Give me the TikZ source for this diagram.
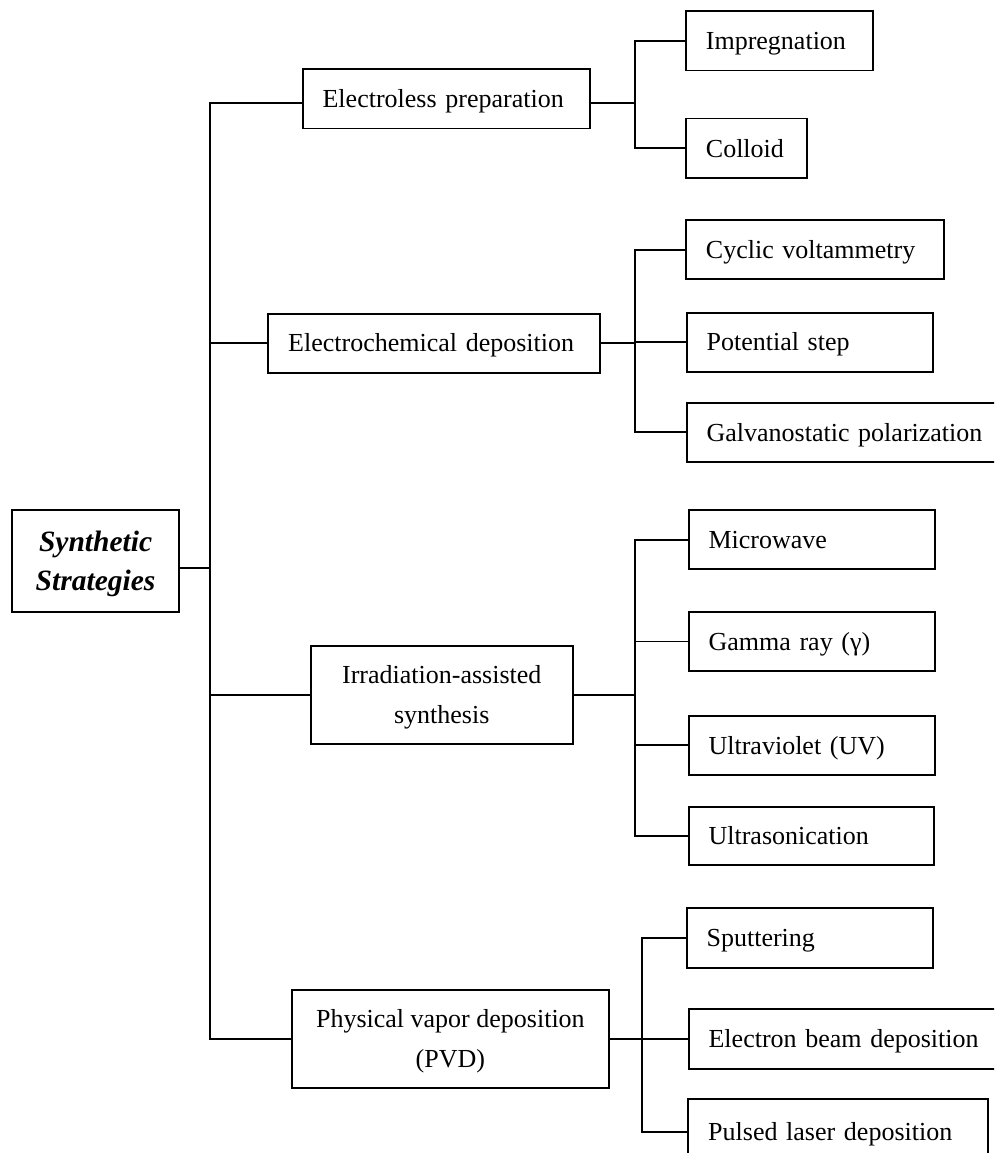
\documentclass[tikz,border=0pt]{standalone}
\usepackage{fontspec}
\setmainfont{Liberation Serif}
\usetikzlibrary{calc}
\begin{document}
\begin{tikzpicture}[x=1pt,y=-1pt,
  ln/.style={line width=1.8pt},
  box/.style={draw, line width=1.8pt, rectangle, anchor=north west,
    inner xsep=20pt, inner ysep=0pt, align=left,
    font=\fontsize{26}{40}\selectfont, text height=17.6pt, text depth=0pt},
  twoline/.style={draw, line width=1.8pt, rectangle, anchor=north west,
    inner xsep=0pt, inner ysep=0pt, align=center,
    font=\fontsize{26}{40}\selectfont, text height=57.6pt, text depth=0pt},
  rootbox/.style={draw, line width=1.8pt, rectangle, anchor=north west,
    inner xsep=0pt, inner ysep=0pt, align=center,
    font=\fontsize{29.5}{39}\selectfont\bfseries\itshape, text height=58.7pt, text depth=0pt}]
\useasboundingbox (0,0) rectangle (994,1153);
\clip (0,0) rectangle (994,1153);

% root
\node[rootbox, minimum width=167.3pt, minimum height=102pt] (syn) at (11,509) {Synthetic\\Strategies};

% level 1
\node[box, minimum height=59.4pt, text width=247.6pt] (elp) at (301.7,68.3) {Electroless preparation};
\node[box, minimum height=59pt, text width=291.7pt] (ecd) at (267.3,312.7) {Electrochemical deposition};
\node[twoline, minimum width=261.7pt, minimum height=98.3pt] (ira) at (310,645) {Irradiation-assisted\\synthesis};
\node[twoline, minimum width=317.6pt, minimum height=98pt] (pvd) at (290.7,989) {Physical vapor deposition\\(PVD)};

% level 2
\node[box, minimum height=59.4pt, text width=146.7pt] (imp) at (685,10.3) {Impregnation};
\node[box, minimum height=59.3pt, text width=80.7pt] (col) at (685,117.7) {Colloid};

\node[box, minimum height=59pt, text width=218.3pt] (cv) at (685,219.3) {Cyclic voltammetry};
\node[box, minimum height=59pt, text width=206pt] (ps) at (685.7,311.7) {Potential step};
\node[box, minimum height=59.3pt, text width=280pt] (gp) at (685.7,401.7) {Galvanostatic polarization};

\node[box, minimum height=59pt, text width=206.3pt] (mw) at (687.7,509.3) {Microwave};
\node[box, minimum height=59pt, text width=206.3pt] (gr) at (687.7,611) {Gamma ray (γ)};
\node[box, minimum height=59.3pt, text width=206.3pt] (uv) at (687.7,714.7) {Ultraviolet (UV)};
\node[box, minimum height=58.3pt, text width=205.6pt] (us) at (687.7,805.7) {Ultrasonication};

\node[box, minimum height=59.4pt, text width=206pt] (sp) at (685.7,907.3) {Sputtering};
\node[box, minimum height=59.4pt, text width=280pt] (eb) at (687.7,1008.3) {Electron beam deposition};
\node[box, minimum height=67pt, text width=259.4pt] (pl) at (687.3,1097.7) {Pulsed laser deposition};

% bus x positions
\coordinate (bx) at (210,0);
\coordinate (x1) at (635,0);
\coordinate (x4) at (641.7,0);

% main bus
\coordinate (se) at ($(syn.east)+(0,7.3)$);
\coordinate (elw) at ($(elp.west)+(0,4.3)$);
\draw[ln] (se) -- (se -| bx);
\draw[ln] (elw) -| (pvd.west -| bx) -- (pvd.west);
\draw[ln] (ecd.west) -- (ecd.west -| bx);
\draw[ln] (ira.west) -- (ira.west -| bx);

% group 1
\coordinate (ele) at ($(elp.east)+(0,4.3)$);
\draw[ln] (ele) -- (ele -| x1);
\draw[ln] (imp.west) -| (col.west -| x1) -- (col.west);

% group 2
\draw[ln] (ecd.east) -- (ecd.east -| x1);
\draw[ln] (cv.west) -| (gp.west -| x1) -- (gp.west);
\draw[ln] (ps.west) -- (ps.west -| x1);

% group 3
\draw[ln] (ira.east) -- (ira.east -| x1);
\draw[ln] (mw.west) -| (us.west -| x1) -- (us.west);
\draw[ln] (gr.west) -- (gr.west -| x1);
\draw[ln] (uv.west) -- (uv.west -| x1);

% group 4
\draw[ln] (pvd.east) -- (pvd.east -| x4);
\draw[ln] (sp.west) -| (pl.west -| x4) -- (pl.west);
\draw[ln] (eb.west) -- (eb.west -| x4);
\end{tikzpicture}
\end{document}
